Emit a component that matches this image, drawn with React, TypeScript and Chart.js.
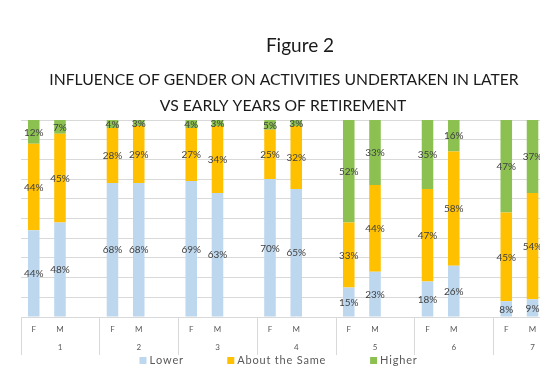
import { useEffect, useRef } from 'react';
import { Chart, registerables } from 'chart.js';

Chart.register(...registerables);

// ---- data ----
const groups = ['1', '2', '3', '4', '5', '6', '7'];
const genders = ['F', 'M'];
const lowerF = [44, 68, 69, 70, 15, 18, 8];
const lowerM = [48, 68, 63, 65, 23, 26, 9];
const sameF = [44, 28, 27, 25, 33, 47, 45];
const sameM = [45, 29, 34, 32, 44, 58, 54];
const higherF = [12, 4, 4, 5, 52, 35, 47];
const higherM = [7, 3, 3, 3, 33, 16, 37];
const seriesNames = ['Lower', 'About the Same', 'Higher'];
const seriesColors = ['#BDD7EE', '#FFC000', '#8CC152'];
const figureTitle = 'Figure 2';
const titleLines = [
  'INFLUENCE OF GENDER ON ACTIVITIES UNDERTAKEN IN LATER',
  'VS EARLY YEARS OF RETIREMENT',
];

// one slot per gender plus an empty spacer slot after each group
const labels: string[] = [];
groups.forEach(() => {
  genders.forEach((g) => labels.push(g));
  labels.push('');
});

function expand(f: number[], m: number[]) {
  const out: (number | null)[] = [];
  f.forEach((v, i) => {
    out.push(v, m[i], null);
  });
  return out;
}

const seriesData = [
  expand(lowerF, lowerM),
  expand(sameF, sameM),
  expand(higherF, higherM),
];

const FONT = 'Lato, "Open Sans", sans-serif';

const decorPlugin = {
  id: 'decor',
  afterDatasetsDraw(chart: any) {
    const ctx = chart.ctx;
    ctx.save();
    ctx.font = `10px ${FONT}`;
    ctx.fillStyle = '#404040';
    ctx.textAlign = 'center';
    ctx.textBaseline = 'middle';
    chart.data.datasets.forEach((ds: any, di: number) => {
      const meta = chart.getDatasetMeta(di);
      meta.data.forEach((el: any, i: number) => {
        const v = ds.data[i];
        if (v == null) return;
        const p = el.getProps(['x', 'y', 'base'], true);
        ctx.fillText(`${v}%`, p.x, (p.y + p.base) / 2 + 0.5);
      });
    });
    ctx.restore();
  },
  afterDraw(chart: any) {
    const ctx = chart.ctx;
    const xs = chart.scales.x;
    const area = chart.chartArea;
    const slot = xs.getPixelForValue(1) - xs.getPixelForValue(0);
    ctx.save();

    // group separators
    ctx.strokeStyle = '#d9d9d9';
    ctx.lineWidth = 1;
    for (let g = 0; g <= groups.length; g++) {
      const x = Math.round(xs.getPixelForValue(g * 3) - slot / 2) + 0.5;
      ctx.beginPath();
      ctx.moveTo(x, area.bottom);
      ctx.lineTo(x, area.bottom + 38);
      ctx.stroke();
    }

    // category labels
    ctx.fillStyle = '#595959';
    ctx.font = `8px ${FONT}`;
    ctx.textAlign = 'center';
    ctx.textBaseline = 'middle';
    labels.forEach((l, i) => {
      if (!l) return;
      ctx.fillText(l, xs.getPixelForValue(i), area.bottom + 12);
    });
    groups.forEach((g, gi) => {
      ctx.fillText(g, xs.getPixelForValue(gi * 3 + 1), area.bottom + 30);
    });

    // header
    ctx.fillStyle = '#1a1a1a';
    ctx.textBaseline = 'alphabetic';
    ctx.font = `19px ${FONT}`;
    ctx.fillText(figureTitle, 300, 52);
    ctx.font = `15.7px ${FONT}`;
    ctx.fillText(titleLines[0], 284, 85);
    ctx.fillText(titleLines[1], 283, 111);

    // legend
    ctx.font = `11px ${FONT}`;
    const spacing = 0.8;
    const box = 7;
    const gapBoxText = 3;
    const gapItems = 44;
    const widths = seriesNames.map(
      (n) => ctx.measureText(n).width + n.length * spacing
    );
    const total =
      widths.reduce((a, b) => a + b, 0) +
      seriesNames.length * (box + gapBoxText) +
      (seriesNames.length - 1) * gapItems;
    let x = 278.5 - total / 2;
    const ly = 360.5;
    ctx.textAlign = 'left';
    ctx.textBaseline = 'middle';
    seriesNames.forEach((n, i) => {
      ctx.fillStyle = seriesColors[i];
      ctx.fillRect(x, ly - box / 2, box, box);
      x += box + gapBoxText;
      ctx.fillStyle = '#595959';
      // draw char by char with fixed extra spacing
      let cx = x;
      for (const ch of n) {
        ctx.fillText(ch, cx, ly);
        cx += ctx.measureText(ch).width + spacing;
      }
      x += widths[i] + gapItems;
    });
    ctx.restore();
  },
};

export default function App() {
  const ref = useRef<HTMLCanvasElement | null>(null);

  useEffect(() => {
    if (!ref.current) return;
    const chart = new Chart(ref.current, {
      type: 'bar',
      data: {
        labels,
        datasets: seriesNames.map((name, i) => ({
          label: name,
          data: seriesData[i],
          backgroundColor: seriesColors[i],
          borderWidth: 0,
          barPercentage: 0.44,
          categoryPercentage: 1,
        })),
      },
      options: {
        responsive: false,
        animation: false,
        layout: { padding: { left: 20.6, right: 4.1, top: 120, bottom: 61 } },
        plugins: {
          legend: { display: false },
          title: { display: false },
          tooltip: { enabled: false },
        },
        scales: {
          x: { stacked: true, display: false, offset: true },
          y: {
            stacked: true,
            min: 0,
            max: 100,
            ticks: { display: false, stepSize: 10 },
            grid: { color: '#d9d9d9', drawTicks: false },
            border: { display: false },
          },
        },
      },
      plugins: [decorPlugin],
    });
    return () => chart.destroy();
  }, []);

  return (
    <div
      style={{
        position: 'absolute',
        left: 0,
        top: 0,
        width: 540,
        height: 378,
        overflow: 'hidden',
        background: '#fff',
      }}
    >
      <canvas ref={ref} width={576} height={378} />
    </div>
  );
}
